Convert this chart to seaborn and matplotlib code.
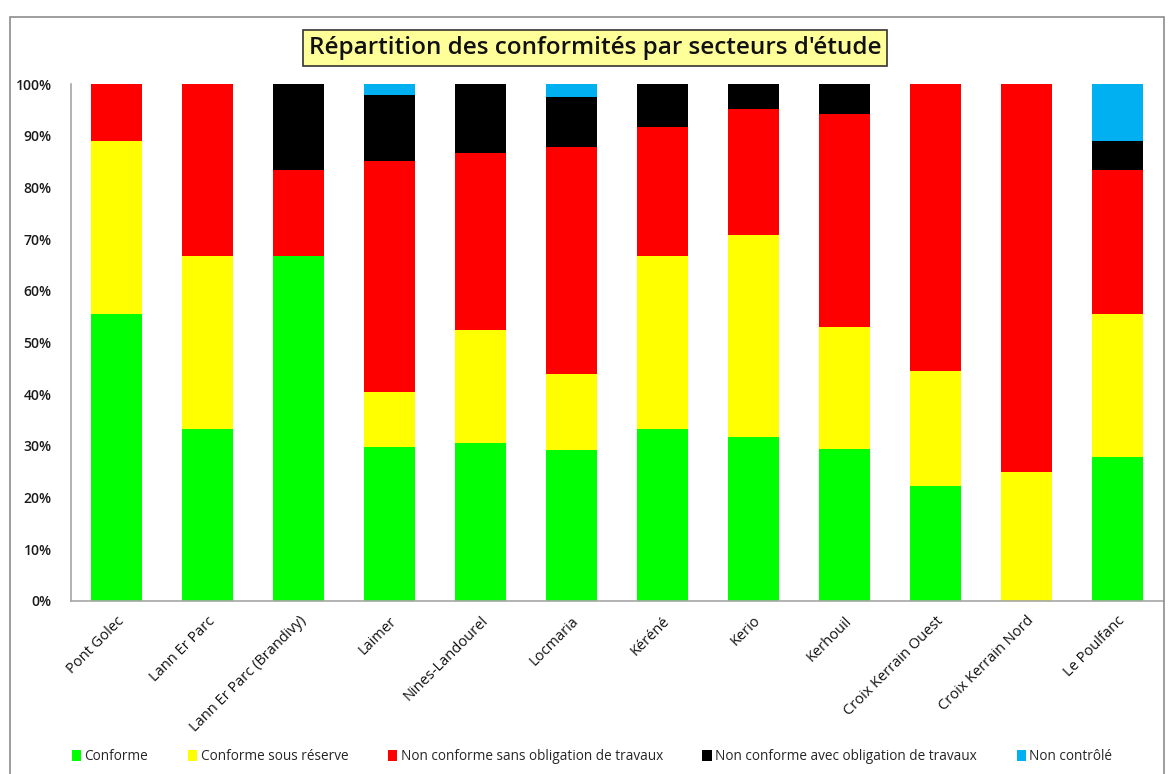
import matplotlib
matplotlib.use("Agg")
import matplotlib.pyplot as plt
from matplotlib.patches import Rectangle, Patch
from matplotlib.ticker import PercentFormatter, MultipleLocator
import numpy as np
import pandas as pd
import seaborn as sns

# Study sectors
sectors = [
    "Pont Golec", "Lann Er Parc", "Lann Er Parc (Brandivy)", "Laimer",
    "Nines-Landourel", "Locmaria", "Kéréné", "Kerio", "Kerhouil",
    "Croix Kerrain Ouest", "Croix Kerrain Nord", "Le Poulfanc",
]

# Number of installations per compliance status, per sector
conforme =          [5, 1, 4, 14, 25, 12, 4, 13, 5, 2, 0, 5]
conforme_reserve =  [3, 1, 0, 5, 18, 6, 4, 16, 4, 2, 1, 5]
nc_sans_travaux =   [1, 1, 1, 21, 28, 18, 3, 10, 7, 5, 3, 5]
nc_avec_travaux =   [0, 0, 1, 6, 11, 4, 1, 2, 1, 0, 0, 1]
non_controle =      [0, 0, 0, 1, 0, 1, 0, 0, 0, 0, 0, 2]

statuses = [
    "Conforme",
    "Conforme sous réserve",
    "Non conforme sans obligation de travaux",
    "Non conforme avec obligation de travaux",
    "Non contrôlé",
]
colors = ["#00FF00", "#FFFF00", "#FF0000", "#000000", "#00B0F0"]

counts = pd.DataFrame(
    np.array([conforme, conforme_reserve, nc_sans_travaux,
              nc_avec_travaux, non_controle]).T,
    index=sectors, columns=statuses,
)
shares = counts.div(counts.sum(axis=1), axis=0) * 100
cumulative = shares.cumsum(axis=1)

sns.set_theme(style="white")
plt.rcParams["font.family"] = ["Open Sans", "DejaVu Sans"]

fig = plt.figure(figsize=(11.68, 7.74), dpi=100)
ax = fig.add_axes([71 / 1168, 1 - 601 / 774, 1092 / 1168, 517 / 774])

# Stacked bars: draw cumulative totals from the top layer down
for status, color in reversed(list(zip(statuses, colors))):
    sns.barplot(
        x=sectors, y=cumulative[status].values, color=color,
        width=0.56, linewidth=0, saturation=1, ax=ax,
    )

ax.set_xlim(-0.5, len(sectors) - 0.5)
ax.set_ylim(0, 100)
ax.yaxis.set_major_locator(MultipleLocator(10))
ax.yaxis.set_major_formatter(PercentFormatter(decimals=0))
ax.set_xlabel("")
ax.set_ylabel("")

for side in ["top", "right"]:
    ax.spines[side].set_visible(False)
for side in ["left", "bottom"]:
    ax.spines[side].set_color("#A6A6A6")
    ax.spines[side].set_linewidth(1.2)

ax.tick_params(axis="both", length=0)
ax.tick_params(axis="y", pad=14, labelsize=10, labelcolor="#1A1A1A")
for lbl in ax.get_yticklabels():
    lbl.set_fontweight("semibold")
ax.set_xticks(range(len(sectors)))
ax.set_xticklabels(sectors, rotation=45, ha="right", va="top",
                   rotation_mode="anchor", fontsize=10.5, color="#111111")
ax.tick_params(axis="x", pad=9)

# Title in a framed yellow box
fig.text(595 / 1168, 1 - 48 / 774, "Répartition des conformités par secteurs d'étude",
         ha="center", va="center", fontsize=17.5, fontweight="semibold",
         color="#111111",
         bbox=dict(boxstyle="square,pad=0.25", facecolor="#FFFF99",
                   edgecolor="#333333", linewidth=1.2))

# Outer chart frame
fig.patches.append(Rectangle((10 / 1168, -2 / 774), 1154 / 1168, 759 / 774,
                             transform=fig.transFigure, fill=False,
                             edgecolor="#8C8C8C", linewidth=1.2))

handles = [Patch(facecolor=c, edgecolor="none") for c in colors]
fig.legend(handles, statuses, loc="center", bbox_to_anchor=(592 / 1168, 1 - 757 / 774),
           ncol=5, frameon=False, fontsize=9.8, handlelength=0.7,
           handleheight=0.9, handletextpad=0.25, columnspacing=2.9)

fig.savefig("out.png", dpi=100, facecolor="white")
